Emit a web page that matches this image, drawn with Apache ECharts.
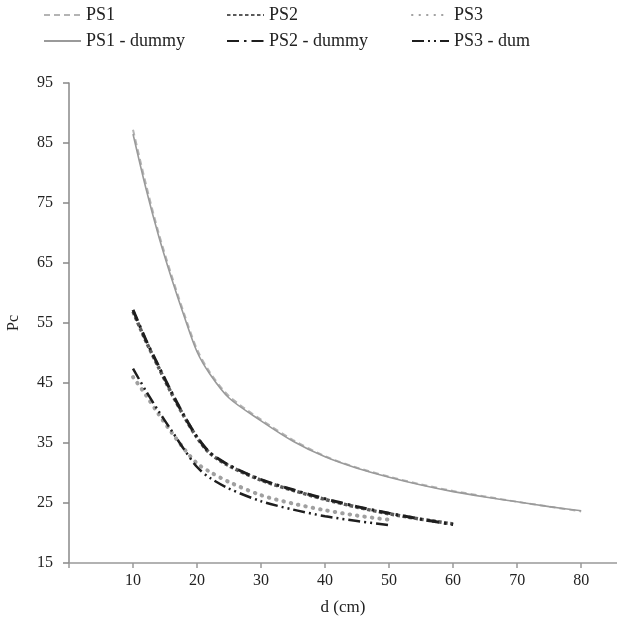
<!DOCTYPE html>
<html>
<head>
<meta charset="utf-8">
<script src="https://cdn.jsdelivr.net/npm/echarts@6/dist/echarts.min.js"></script>
<style>
html,body{margin:0;padding:0;background:#fff;}
#chart{width:617px;height:621px;}
</style>
</head>
<body>
<div id="chart"></div>
<script>
// ---- data ----
const dPS1 = [10, 12, 14, 16, 18, 20, 22, 25, 30, 35, 40, 45, 50, 55, 60, 65, 70, 75, 80];
const ps1 = [87.2, 78.2, 70, 63, 56.5, 50.6, 46.8, 42.8, 38.9, 35.5, 32.8, 30.9, 29.4, 28.1, 27.0, 26.1, 25.2, 24.4, 23.6];
const ps1Dummy = [86.5, 77.5, 69.5, 62.5, 56.1, 50.2, 46.5, 42.5, 38.7, 35.3, 32.7, 30.8, 29.3, 28.0, 26.9, 26.0, 25.2, 24.4, 23.7];

const dPS2 = [10, 12, 14, 16, 18, 20, 22, 25, 30, 35, 40, 45, 50, 55, 60];
const ps2 = [56.9, 52, 47.6, 43.3, 39.4, 35.9, 33.3, 31.2, 28.8, 27.1, 25.6, 24.3, 23.2, 22.3, 21.5];
const ps2Dummy = [57.2, 52.2, 47.8, 43.5, 39.5, 36.0, 33.4, 31.3, 28.9, 27.2, 25.7, 24.4, 23.3, 22.3, 21.4];

const dPS3 = [10, 12, 14, 16, 18, 20, 22, 25, 30, 35, 40, 45, 50];
const ps3 = [46.0, 43.0, 39.8, 36.8, 34.0, 31.6, 30.2, 28.5, 26.3, 24.9, 23.8, 22.9, 22.2];
const ps3Dummy = [47.4, 43.7, 40.3, 37.1, 33.9, 31.0, 29.2, 27.4, 25.3, 23.9, 22.8, 22.0, 21.3];

const seriesNames = ['PS1', 'PS1 - dummy', 'PS2', 'PS2 - dummy', 'PS3', 'PS3 - dummy'];
const xTicks = [10, 20, 30, 40, 50, 60, 70, 80];
const xTickMarks = [0, 10, 20, 30, 40, 50, 60, 70, 80];
const yTicks = [15, 25, 35, 45, 55, 65, 75, 85, 95];

function pairs(xs, ys) { return xs.map((x, i) => [x, ys[i]]); }

const FONT = '"Liberation Serif", "DejaVu Serif", serif';

const chart = echarts.init(document.getElementById('chart'), null, {renderer: 'canvas'});

function mkLine(name, xs, ys, style, z) {
  return {
    name: name,
    type: 'line',
    data: pairs(xs, ys),
    symbol: 'none',
    showSymbol: false,
    smooth: 0.3,
    z: z,
    lineStyle: style,
    itemStyle: {color: style.color},
    emphasis: {disabled: true},
    animation: false
  };
}

const legendText = {fontFamily: FONT, fontSize: 18, color: '#222'};
const legendCommon = {
  orient: 'vertical',
  padding: 0,
  itemWidth: 37,
  itemHeight: 14,
  itemGap: 8,
  itemStyle: {opacity: 0},
  textStyle: legendText,
  selectedMode: false
};

const option = {
  backgroundColor: '#fff',
  animation: false,
  legend: [
    Object.assign({}, legendCommon, {left: 43, top: 6, data: seriesNames.slice(0, 2)}),
    Object.assign({}, legendCommon, {left: 226, top: 6, data: seriesNames.slice(2, 4)}),
    Object.assign({}, legendCommon, {left: 411, top: 6, data: seriesNames.slice(4, 6),
      textStyle: Object.assign({}, legendText, {width: 86, overflow: 'truncate', ellipsis: ''})})
  ],
  grid: {left: 69, right: 0, top: 83, bottom: 58, containLabel: false, outerBoundsMode: 'none'},
  xAxis: {
    type: 'value',
    min: 0,
    max: 85.6,
    interval: 10,
    name: 'd (cm)',
    nameLocation: 'middle',
    nameGap: 36,
    nameTextStyle: {fontFamily: FONT, fontSize: 17, color: '#222'},
    axisLine: {show: true, lineStyle: {color: '#999', width: 1.5}},
    axisTick: {show: true, length: 5, inside: false, customValues: xTickMarks, lineStyle: {color: '#999', width: 1.5}},
    axisLabel: {
      fontFamily: FONT, fontSize: 16, color: '#222', margin: 10,
      customValues: xTicks,
      formatter: v => (xTicks.indexOf(v) >= 0 ? String(v) : '')
    },
    splitLine: {show: false}
  },
  yAxis: {
    type: 'value',
    min: 15,
    max: 95,
    interval: 10,
    name: 'Pc',
    nameLocation: 'middle',
    nameRotate: 90,
    nameGap: 47,
    nameTextStyle: {fontFamily: FONT, fontSize: 16, color: '#222'},
    axisLine: {show: true, lineStyle: {color: '#888', width: 1.5}},
    axisTick: {show: true, length: 6, lineStyle: {color: '#888', width: 1.5}},
    axisLabel: {
      fontFamily: FONT, fontSize: 16, color: '#222', margin: 16,
      formatter: v => (yTicks.indexOf(v) >= 0 ? String(v) : '')
    },
    splitLine: {show: false}
  },
  series: [
    mkLine('PS1', dPS1, ps1, {color: '#b4b4b4', width: 2, type: [6, 4]}, 2),
    mkLine('PS1 - dummy', dPS1, ps1Dummy, {color: '#9a9a9a', width: 1.6, type: 'solid'}, 3),
    mkLine('PS2', dPS2, ps2, {color: '#5a5a5a', width: 3.5, type: [3.5, 2.5]}, 2),
    mkLine('PS2 - dummy', dPS2, ps2Dummy, {color: '#1e1e1e', width: 3, type: [12, 5, 2.5, 5]}, 3),
    mkLine('PS3', dPS3, ps3, {color: '#a0a0a0', width: 4, type: [0.5, 7], cap: 'round'}, 2),
    mkLine('PS3 - dummy', dPS3, ps3Dummy, {color: '#1e1e1e', width: 2.5, type: [12, 4, 2, 4, 2, 4]}, 3)
  ]
};

chart.setOption(option);
</script>
</body>
</html>
